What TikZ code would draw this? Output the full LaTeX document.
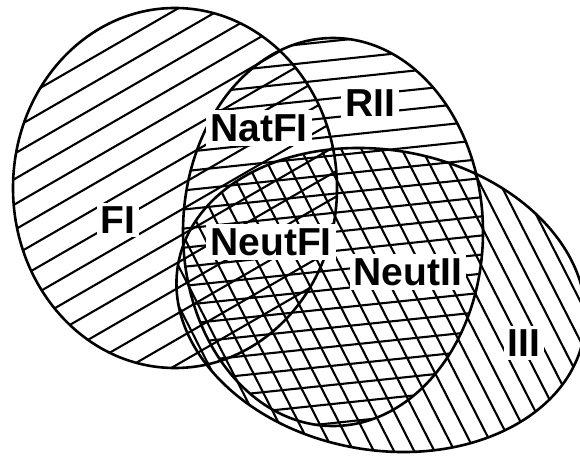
\documentclass[tikz,border=0pt]{standalone}
\usepackage{fontspec}
\setmainfont{Liberation Sans}
\begin{document}
\begin{tikzpicture}[x=1pt,y=1pt,line join=round,line cap=round,
		rim/.style={line width=2.6pt},
		hatch/.style={line width=2.1pt},
		lab/.style={fill=white,inner sep=4pt,font=\fontsize{39}{41}\selectfont\bfseries}]
	\useasboundingbox (0,0) rectangle (580,461);
	\begin{scope}
		\clip (175,273) ellipse [x radius=162,y radius=180];
		\foreach \d in {-264,-242,...,264}
			\draw[hatch,rotate around={30:(175,273)}] (-125,273+\d) -- (475,273+\d);
	\end{scope}
	\begin{scope}
		\clip (333,229) ellipse [x radius=150,y radius=194];
		\foreach \d in {-228,-209,...,228}
			\draw[hatch,rotate around={6:(333,229)}] (63,229+\d) -- (603,229+\d);
	\end{scope}
	\begin{scope}
		\clip[rotate around={-10:(381,161)}] (381,161) ellipse [x radius=206,y radius=150];
		\foreach \d in {-255,-237,...,255}
			\draw[hatch,rotate around={-63:(381,161)}] (120,161+\d) -- (640,161+\d);
	\end{scope}
	\draw[rim] (175,273) ellipse [x radius=162,y radius=180];
	\draw[rim] (333,229) ellipse [x radius=150,y radius=194];
	\draw[rim,rotate around={-10:(381,161)}] (381,161) ellipse [x radius=206,y radius=150];
	\node[lab] (fi) at (118,241) {FI};
	\node[lab] (natfi) at (259,333) {NatFI};
	\node[lab] (rii) at (370,358) {RII};
	\node[lab] (neutfi) at (271,219) {NeutFI};
	\node[lab] (neutii) at (408,189) {NeutII};
	\node[lab] (iii) at (524,118) {III};
\end{tikzpicture}
\end{document}
